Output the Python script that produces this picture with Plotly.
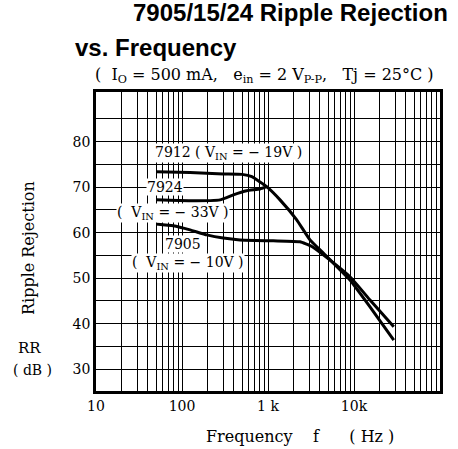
import plotly.graph_objects as go

# ---- data ----
f_7912 = [50, 124, 302, 500, 650, 800, 966, 1380, 2158, 3076, 4395, 8975, 15350, 29000]
rr_7912 = [73.4, 73.2, 72.9, 72.8, 72.3, 71.2, 70.1, 67.2, 62.8, 58.4, 55.5, 49.6, 43.7, 36.4]

f_7924 = [50, 124, 277, 395, 565, 807, 966]
rr_7924 = [67.2, 67.0, 67.2, 68.3, 69.2, 69.6, 70.1]

f_7905 = [50, 79, 124, 194, 302, 472, 1153, 2355, 3200, 4395, 8975, 15350, 29000]
rr_7905 = [61.9, 61.5, 60.6, 59.5, 58.8, 58.4, 58.2, 58.0, 57.0, 55.1, 50.3, 45.2, 39.3]

x_major = [10, 100, 1000, 10000, 100000]
x_major_text = ["10", "100", "1 k", "10k", "100k"]
y_grid = [30, 35, 40, 45, 50, 55, 60, 65, 70, 75, 80, 85]
y_labels = ["30", "", "40", "", "50", "", "60", "", "70", "", "80", ""]

# all log grid positions (1..9 per decade)
x_vals, x_text = [], []
for d in range(1, 5):
    for m in range(1, 10):
        v = m * 10 ** d
        x_vals.append(v)
        x_text.append(x_major_text[d - 1] if m == 1 else "")
x_vals.append(100000)
x_text.append("100k")

SERIF = "DejaVu Serif"
line = dict(color="black", width=3, shape="spline", smoothing=0.35)

fig = go.Figure()
fig.add_trace(go.Scatter(x=f_7912, y=rr_7912, mode="lines", line=line, showlegend=False))
fig.add_trace(go.Scatter(x=f_7924, y=rr_7924, mode="lines", line=line, showlegend=False))
fig.add_trace(go.Scatter(x=f_7905, y=rr_7905, mode="lines", line=line, showlegend=False))

fig.update_layout(
    width=458, height=449,
    margin=dict(l=96, r=18, t=92, b=58),
    paper_bgcolor="white", plot_bgcolor="white",
    font=dict(family=SERIF, size=14, color="black"),
    xaxis=dict(type="log", range=[1, 5], tickvals=x_vals, ticktext=x_text,
               showgrid=True, gridcolor="black", gridwidth=1.4,
               showline=True, linecolor="black", linewidth=2.5, mirror=True,
               ticks="", zeroline=False, tickfont=dict(family=SERIF, size=14)),
    yaxis=dict(range=[25.2, 90.9], tickvals=y_grid, ticktext=y_labels,
               showgrid=True, gridcolor="black", gridwidth=1.4,
               showline=True, linecolor="black", linewidth=2.5, mirror=True,
               ticks="", zeroline=False, tickfont=dict(family=SERIF, size=14)),
)

def px_x(px):
    return (px - 96) / 344.0

def px_y(py):
    return (391 - py) / 299.0

ann = []
TITLE_FONT = dict(family="Liberation Sans, Arial", size=24, color="black")
ann.append(dict(text="<b>7905/15/24 Ripple Rejection</b>", x=px_x(450), y=px_y(13), xanchor="right", yanchor="middle", font=TITLE_FONT))
ann.append(dict(text="<b>vs. Frequency</b>", x=px_x(73), y=px_y(47), xanchor="left", yanchor="middle", font=TITLE_FONT))
ann.append(dict(text="(  I<sub>O</sub> = 500 mA,   e<sub>in</sub> = 2 V<sub>P-P</sub>,   Tj = 25°C )",
                x=px_x(264), y=px_y(75), xanchor="center", yanchor="middle", font=dict(family=SERIF, size=16)))
ann.append(dict(text="Frequency    f      ( Hz )", x=px_x(300), y=px_y(436), xanchor="center", yanchor="middle", font=dict(family=SERIF, size=16)))
ann.append(dict(text="Ripple Rejection", x=px_x(28), y=px_y(248), textangle=-90, xanchor="center", yanchor="middle", font=dict(family=SERIF, size=16)))
ann.append(dict(text="RR", x=px_x(29), y=px_y(348), xanchor="center", yanchor="middle", font=dict(family=SERIF, size=15)))
ann.append(dict(text="( dB )", x=px_x(32), y=px_y(370), xanchor="center", yanchor="middle", font=dict(family=SERIF, size=14)))

LBL = dict(family=SERIF, size=14, color="black")
labels = [
    ("7912 ( V<sub>IN</sub> = − 19V )", 228, 153),
    ("7924", 165, 187),
    ("(  V<sub>IN</sub> = − 33V )", 173, 213),
    ("7905", 183, 244),
    ("(  V<sub>IN</sub> = − 10V )", 188, 263),
]
for t, lx, ly in labels:
    ann.append(dict(text=t, x=px_x(lx), y=px_y(ly), xanchor="center", yanchor="middle",
                    bgcolor="white", borderpad=0, font=LBL))

for a in ann:
    a.update(xref="paper", yref="paper", showarrow=False)
fig.update_layout(annotations=ann)

fig.write_html("out.html", config={"displayModeBar": False},
               post_script="document.body.style.margin='0';document.body.style.padding='0';")
